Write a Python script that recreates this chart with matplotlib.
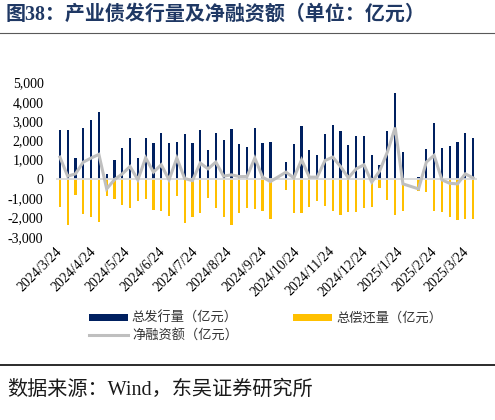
import numpy as np
import matplotlib
matplotlib.use("Agg")
import matplotlib.pyplot as plt
import matplotlib.dates as mdates
from matplotlib.lines import Line2D
from matplotlib.patches import Patch
import datetime as dt

# ---------------- data ----------------
start_date = dt.date(2024, 3, 24)
n_weeks = 54
nan = np.nan
issuance = [2520, 2520, 1080, 2640, 3070, 3450, 260, 990, 1610, 2100,
            1090, 2140, 1875, 2360, 1840, 1930, 2330, 1875, 2560, 1480,
            2360, 2030, 2590, 1820, 1630, 2620, 1860, 1890, nan, 870,
            1820, 2730, 1510, 1220, 2310, 2780, 2470, 1770, 2240, 2220,
            1250, 730, 2470, 4460, 1370, nan, 90, 1550, 2880, 1610,
            1720, 1890, 2380, 2120]
repayment = [-1440, -2380, -820, -1820, -2000, -2240, -890, -1020, -1350, -1490,
             -1160, -1040, -1600, -1680, -1910, -870, -2310, -1960, -1770, -990,
             -1530, -1960, -2400, -1770, -1510, -1580, -1680, -2070, nan, -560,
             -1790, -1770, -1440, -1160, -1390, -1660, -1860, -1700, -1740, -1530,
             -1480, -470, -1080, -1860, -1650, nan, -610, -690, -1650, -1740,
             -2000, -2140, -2100, -2070]
net = [1130, 140, 260, 870, 1080, 1270, -520, -40, 260, 640,
       -50, 1090, 350, 730, -50, 1080, 20, -90, 820, 520,
       870, 140, 210, 120, 120, 1080, 90, -140, nan, 350,
       50, 990, 90, 90, 950, 1130, 640, 50, 520, 730,
       -170, 400, 1390, 2660, -260, nan, -520, 870, 1220, -50,
       -230, -260, 260, 50]
tick_labels = ["2024/3/24", "2024/4/24", "2024/5/24", "2024/6/24", "2024/7/24",
               "2024/8/24", "2024/9/24", "2024/10/24", "2024/11/24", "2024/12/24",
               "2025/1/24", "2025/2/24", "2025/3/24"]
y_ticks = [-3000, -2000, -1000, 0, 1000, 2000, 3000, 4000, 5000]
series_names = ["总发行量（亿元）", "总偿还量（亿元）", "净融资额（亿元）"]
title = "图38：产业债发行量及净融资额（单位：亿元）"
source = "数据来源：Wind，东吴证券研究所"

# ---------------- style ----------------
W, H = 495, 420
DPI = 100
BLUE = "#002060"
YELLOW = "#FFC000"
GRAY = "#BFBFBF"
SERIF = ["Liberation Serif", "Noto Sans CJK SC"]
CJK = ["Noto Sans CJK SC", "DejaVu Sans"]

dates = [start_date + dt.timedelta(days=7 * i) for i in range(n_weeks)]
x = mdates.date2num(dates)
iss = np.array(issuance, dtype=float)
rep = np.array(repayment, dtype=float)
nt = np.array(net, dtype=float)

fig = plt.figure(figsize=(W / DPI, H / DPI), dpi=DPI)
ax_left, ax_right = 56 / W, 477 / W
ax_top, ax_bot = 1 - 82.5 / H, 1 - 236.7 / H
ax = fig.add_axes([ax_left, ax_bot, ax_right - ax_left, ax_top - ax_bot])

bw = 2.0
mask = ~np.isnan(iss)
ax.bar(x[mask], iss[mask], width=bw, color=BLUE, zorder=2, linewidth=0)
ax.bar(x[mask], rep[mask], width=bw, color=YELLOW, zorder=2, linewidth=0)
ax.axhline(0, color="#D9D9D9", lw=1.3, zorder=3)
m2 = ~np.isnan(nt)
ax.plot(x[m2], nt[m2], color=GRAY, lw=2.2, zorder=4, solid_joinstyle="miter")

ax.set_ylim(-3000, 5000)
ax.set_xlim(x[0] - 3.5, x[-1] + 3.5)
ax.set_yticks(y_ticks)
ax.set_yticklabels([f"{v:,}" for v in y_ticks], family=SERIF, fontsize=10)

tick_dates = []
for lab in tick_labels:
    yy, mm, dd = (int(s) for s in lab.split("/"))
    tick_dates.append(mdates.date2num(dt.date(yy, mm, dd)))
ax.set_xticks(tick_dates)
ax.set_xticklabels(tick_labels, family=SERIF, fontsize=10, rotation=45,
                   ha="right", va="center", rotation_mode="anchor")
ax.tick_params(axis="both", length=0)
ax.tick_params(axis="y", pad=9)
ax.tick_params(axis="x", pad=9)
for s in ax.spines.values():
    s.set_visible(False)

# legend
handles = [Patch(facecolor=BLUE, edgecolor="none"),
           Line2D([0], [0], color=GRAY, lw=2.2),
           Patch(facecolor=YELLOW, edgecolor="none")]
labels = [series_names[0], series_names[2], series_names[1]]
fig.legend(handles, labels, ncol=2, loc="upper left",
           bbox_to_anchor=(89 / W, 1 - 312 / H), frameon=False,
           prop={"family": CJK, "size": 9.5}, handlelength=2.95,
           handleheight=0.5, handletextpad=0.3, columnspacing=4.2,
           labelspacing=0.35, borderpad=0, borderaxespad=0,
           labelcolor="#333333")

# title
fig.text(6 / W, 1 - 15 / H, title, family=SERIF, fontsize=14.4, fontweight="bold",
         color="#1F3864", ha="left", va="center")
fig.add_artist(Line2D([0, 1], [1 - 33 / H, 1 - 33 / H], transform=fig.transFigure,
                      color="#595959", lw=0.8))
fig.add_artist(Line2D([0, 1], [1 - 365 / H, 1 - 365 / H], transform=fig.transFigure,
                      color="#1a1a1a", lw=1.3))
fig.text(7 / W, 1 - 390 / H, source, family=SERIF, fontsize=14.5,
         color="#1a1a1a", ha="left", va="center")

fig.savefig("out.png", dpi=DPI)
